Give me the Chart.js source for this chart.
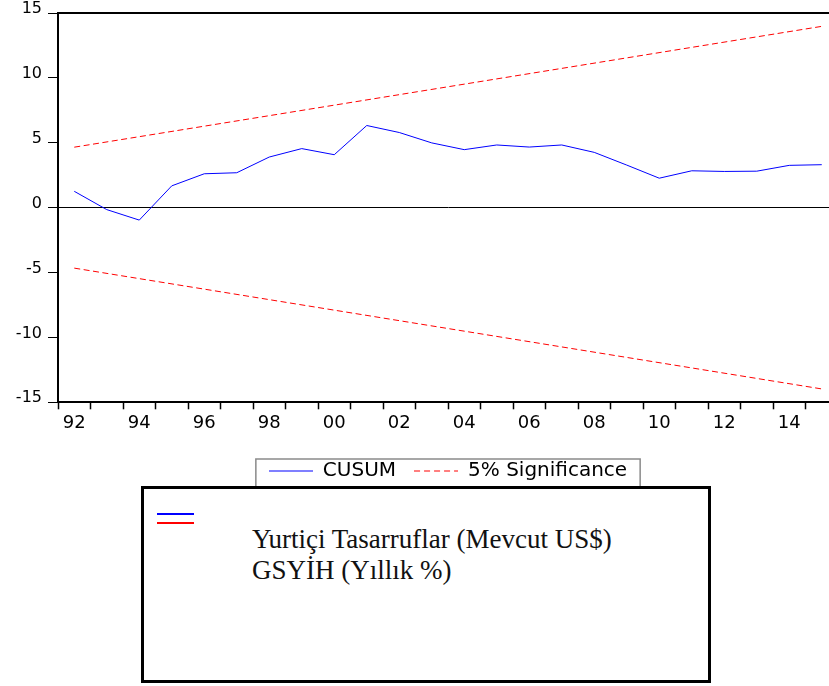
<!DOCTYPE html>
<html>
<head>
<meta charset="utf-8">
<script src="https://cdn.jsdelivr.net/npm/chart.js@4.4.1/dist/chart.umd.min.js"></script>
<style>
  body { margin: 0; background: #fff; }
  #page { position: relative; width: 829px; height: 686px; overflow: hidden; background: #fff; }
  #cusumChart { position: absolute; left: 0; top: 0; }
  #note {
    position: absolute; left: 141px; top: 486px;
    width: 564px; height: 191px;
    border: 3px solid #000; background: #fff;
  }
  #note .key { position: absolute; left: 13px; width: 37px; height: 1.5px; }
  #note .blue { top: 24px; background: #0000ff; }
  #note .red { top: 33px; background: #ff0000; }
  #note .txt {
    position: absolute; left: 108px; top: 35px;
    font-family: "Liberation Serif", serif; font-size: 27px; line-height: 31px;
    color: #111; white-space: nowrap;
  }
</style>
</head>
<body>
<div id="page">
  <canvas id="cusumChart" width="840" height="491"></canvas>
  <div id="note">
    <div class="key blue"></div>
    <div class="key red"></div>
    <div class="txt">Yurtiçi Tasarruflar (Mevcut US$)<br>GSYİH (Yıllık %)</div>
  </div>
</div>
<script>
// -------------------- Data --------------------
const years = ['92', '93', '94', '95', '96', '97', '98', '99', '00', '01', '02', '03',
               '04', '05', '06', '07', '08', '09', '10', '11', '12', '13', '14', '15'];
const cusum = [1.26, -0.15, -0.96, 1.68, 2.61, 2.69, 3.9, 4.55, 4.08, 6.33, 5.79, 4.99,
               4.47, 4.83, 4.67, 4.83, 4.26, 3.28, 2.27, 2.84, 2.79, 2.81, 3.26, 3.31];
// 5% bands are straight lines between the first and last year
const bandYears = ['92', '15'];
const upperBand = [4.66, 13.97];
const lowerBand = [-4.66, -13.97];

const axisFont = "DejaVu Sans";

// small line swatches for the legend (solid blue, dashed red)
function swatch(color, dash) {
  const c = document.createElement('canvas');
  c.width = 44;
  c.height = 2;
  const g = c.getContext('2d');
  g.strokeStyle = color;
  g.lineWidth = 1.2;
  g.setLineDash(dash);
  g.beginPath();
  g.moveTo(0, 1);
  g.lineTo(44, 1);
  g.stroke();
  return c;
}
const blueKey = swatch('#0000ff', []);
const redKey = swatch('#ff0000', [6, 4]);

// -------------------- Frame + legend box --------------------
const framePlugin = {
  id: 'frame',
  afterDraw(chart) {
    const { ctx, chartArea: a, legend } = chart;
    ctx.save();
    ctx.strokeStyle = '#000';
    ctx.lineWidth = 2;
    ctx.beginPath();
    ctx.moveTo(a.left, a.top);
    ctx.lineTo(a.right, a.top);
    ctx.lineTo(a.right, a.bottom);
    ctx.stroke();

    const hb = legend.legendHitBoxes;
    const last = hb[hb.length - 1];
    const l = hb[0].left - 13;
    const r = last.left + last.width + 13;
    const t = hb[0].top - 2;
    const b = hb[0].top + hb[0].height + 14;
    ctx.strokeStyle = '#8a8a8a';
    ctx.lineWidth = 1.5;
    ctx.strokeRect(l, t, r - l, b - t);
    ctx.restore();
  }
};

// -------------------- Chart --------------------
const ctx = document.getElementById('cusumChart').getContext('2d');
const chart = new Chart(ctx, {
  type: 'line',
  data: {
    labels: years,
    datasets: [
      {
        label: 'CUSUM',
        data: cusum,
        borderColor: '#0000ff',
        borderWidth: 1,
        pointRadius: 0,
        pointStyle: blueKey,
        tension: 0,
      },
      {
        label: '5% Significance',
        data: bandYears.map((y, i) => ({ x: y, y: upperBand[i] })),
        borderColor: '#ff0000',
        borderWidth: 1,
        borderDash: [6, 3.5],
        pointRadius: 0,
        pointStyle: redKey,
      },
      {
        label: '5% Significance (lower)',
        data: bandYears.map((y, i) => ({ x: y, y: lowerBand[i] })),
        borderColor: '#ff0000',
        borderWidth: 1,
        borderDash: [6, 3.5],
        pointRadius: 0,
      },
    ],
  },
  options: {
    responsive: false,
    animation: false,
    devicePixelRatio: 1,
    layout: { padding: { left: 0, top: 13, right: 2, bottom: 0 } },
    plugins: {
      tooltip: { enabled: false },
      legend: {
        position: 'bottom',
        fullSize: false,
        labels: {
          usePointStyle: true,
          pointStyleWidth: 44,
          padding: 18,
          color: '#000',
          font: { family: axisFont, size: 20 },
          filter: (item) => item.datasetIndex !== 2,
        },
      },
    },
    scales: {
      x: {
        offset: true,
        grid: {
          offset: true,
          drawOnChartArea: false,
          drawTicks: true,
          tickLength: 7,
          tickColor: '#000',
          tickWidth: 1.5,
        },
        border: { display: true, color: '#000', width: 2 },
        ticks: {
          autoSkip: false,
          maxRotation: 0,
          padding: 3,
          color: '#000',
          font: { family: axisFont, size: 18 },
          callback: (v, i) => (i % 2 === 0 ? years[i] : ''),
        },
        afterFit: (scale) => { scale.height = 40.7; },
      },
      y: {
        min: -15,
        max: 15,
        grid: {
          color: (c) => (c.tick && c.tick.value === 0 ? '#000' : 'rgba(0,0,0,0)'),
          lineWidth: 1,
          drawTicks: true,
          tickLength: 10,
          tickColor: '#000',
          tickWidth: 1,
        },
        border: { display: true, color: '#000', width: 2 },
        ticks: {
          stepSize: 5,
          padding: 6,
          labelOffset: -4,
          color: '#000',
          font: { family: axisFont, size: 16 },
        },
        afterFit: (scale) => {
          scale.width = 58;
          scale.paddingTop = 0;
          scale.paddingBottom = 0;
        },
      },
    },
  },
  plugins: [framePlugin],
});
</script>
</body>
</html>
